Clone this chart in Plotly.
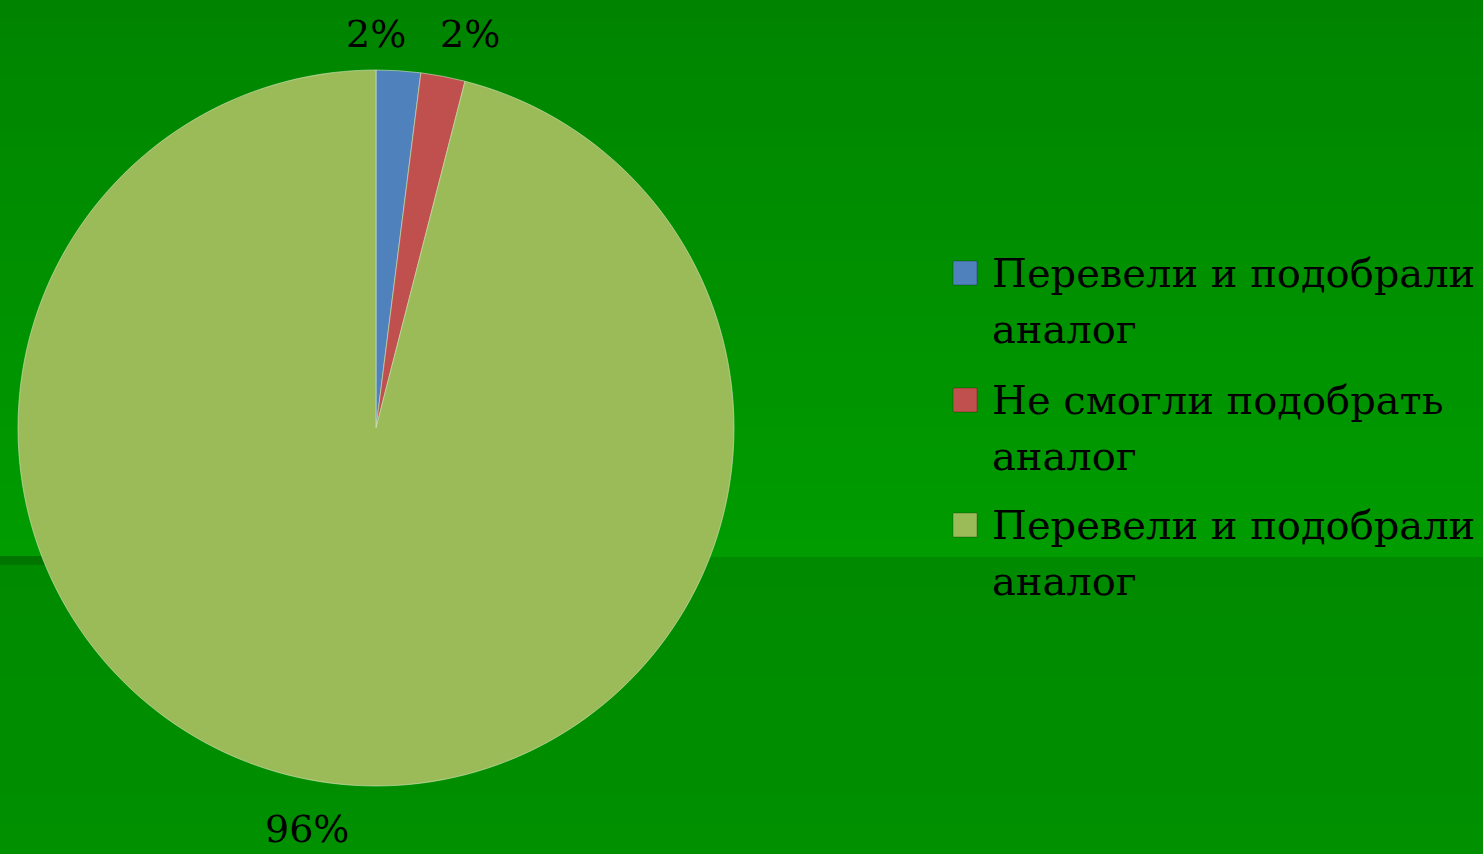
import plotly.graph_objects as go

# Survey results
categories = ["Перевели и подобрали аналог", "Не смогли подобрать аналог", "Перевели и подобрали аналог"]
legend_lines = [["Перевели и подобрали", "аналог"], ["Не смогли подобрать", "аналог"], ["Перевели и подобрали", "аналог"]]
values = [2, 2, 96]
colors = ["#4f81bd", "#c0504d", "#9bbb59"]

W, H = 1483, 854
FONT = "DejaVu Serif"

fig = go.Figure()

fig.add_trace(go.Pie(
    labels=[f"{c} ({i + 1})" for i, c in enumerate(categories)],
    values=values,
    sort=False,
    direction="clockwise",
    rotation=0,
    marker=dict(colors=colors, line=dict(color="rgba(210,230,190,0.6)", width=1)),
    textinfo="none",
    hoverinfo="label+percent",
    domain=dict(x=[16 / W, 736 / W], y=[(854 - 786) / H, (854 - 70) / H]),
    showlegend=False,
))

# Background: vertical gradient on the upper band, flat darker band below
shapes = []
split = 557
n_bands = 30
top_g, mid_g = 132, 156
for i in range(n_bands):
    y0 = split * i / n_bands
    y1 = split * (i + 1) / n_bands + 1
    t = (i + 0.5) / n_bands
    g = round(top_g + (mid_g - top_g) * t)
    shapes.append(dict(type="rect", xref="paper", yref="paper", layer="below",
                       x0=0, x1=1, y0=1 - y1 / H, y1=1 - y0 / H,
                       fillcolor=f"rgb(0,{g},0)", line=dict(width=0)))
n_low = 10
for i in range(n_low):
    y0 = split + (H - split) * i / n_low
    y1 = split + (H - split) * (i + 1) / n_low + 1
    t = (i + 0.5) / n_low
    g = round(138 + (144 - 138) * t)
    shapes.append(dict(type="rect", xref="paper", yref="paper", layer="below",
                       x0=0, x1=1, y0=max(0, 1 - y1 / H), y1=1 - y0 / H,
                       fillcolor=f"rgb(0,{g},0)", line=dict(width=0)))
shapes.append(dict(type="rect", xref="paper", yref="paper", layer="below",
                   x0=0, x1=60 / W, y0=1 - 565 / H, y1=1 - 556 / H,
                   fillcolor="rgb(0,118,0)", line=dict(width=0)))

annotations = []

# Percentage labels
total = sum(values)
label_pos = [(376, 34), (470, 34), (307, 829)]
for v, (px, py) in zip(values, label_pos):
    annotations.append(dict(
        text=f"{v / total * 100:.0f}%", x=px / W, y=1 - py / H,
        xref="paper", yref="paper", xanchor="center", yanchor="middle",
        showarrow=False, font=dict(family=FONT, size=38, color="black"),
    ))

# Legend: colour swatch + two text lines per category
item_top = [273, 400, 525]
line_gap = 56
sw = 24
for lines, col, yc in zip(legend_lines, colors, item_top):
    shapes.append(dict(type="rect", xref="paper", yref="paper",
                       x0=953 / W, x1=(953 + sw) / W,
                       y0=1 - (yc + sw / 2) / H, y1=1 - (yc - sw / 2) / H,
                       fillcolor=col, line=dict(color="rgba(0,0,0,0.25)", width=1)))
    for k, txt in enumerate(lines):
        annotations.append(dict(
            text=txt, x=990 / W, y=1 - (yc + k * line_gap) / H,
            xref="paper", yref="paper", xanchor="left", yanchor="middle",
            showarrow=False, font=dict(family=FONT, size=40, color="black"),
        ))

fig.update_layout(
    width=W, height=H,
    margin=dict(l=0, r=0, t=0, b=0),
    paper_bgcolor="rgb(0,140,0)",
    plot_bgcolor="rgba(0,0,0,0)",
    shapes=shapes,
    annotations=annotations,
)

fig.write_html("out.html")
